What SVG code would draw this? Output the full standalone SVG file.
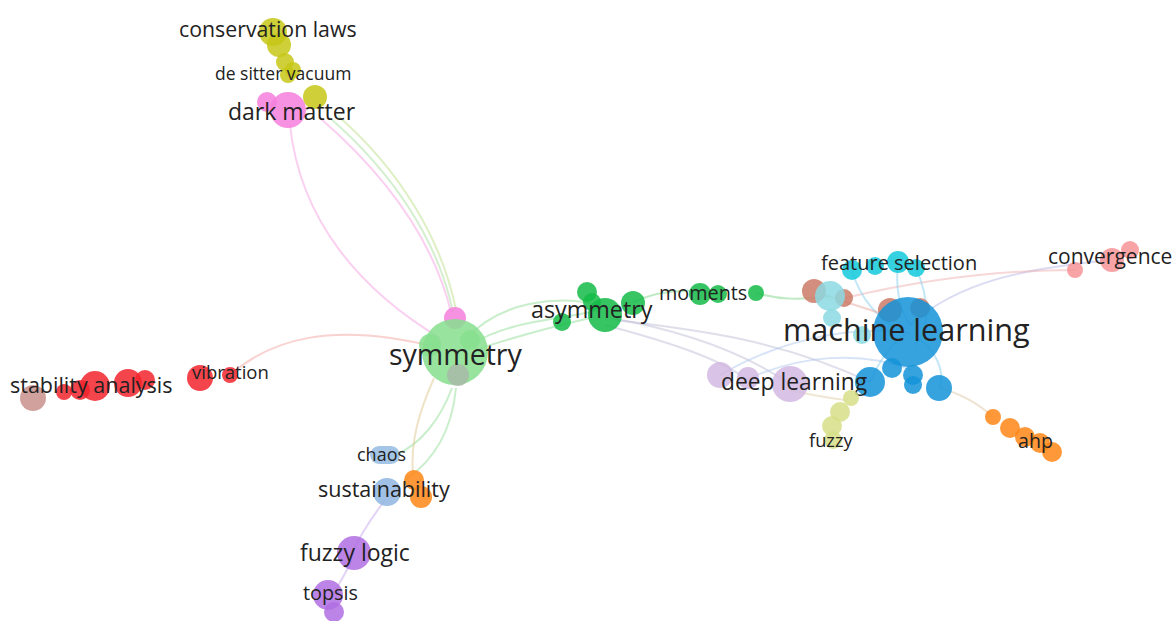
<svg xmlns="http://www.w3.org/2000/svg" width="1175" height="621" viewBox="0 0 1175 621">
<style>
text{font-family:"Open Sans","Liberation Sans",sans-serif;fill:#222;}
.e{fill:none;stroke-width:2;opacity:0.5;}
circle{opacity:0.85;}
.yel{fill:#c6c716;}
.pnk{fill:#f57fdc;}
.lgr{fill:#86df8e;}
.grn{fill:#14bb48;}
.red{fill:#f2242e;}
.brn{fill:#c8908c;}
.cyn{fill:#12c9dc;}
.lcy{fill:#8bd9e2;}
.blu{fill:#1493d8;}
.lpu{fill:#d2b8e2;}
.lye{fill:#d7df88;}
.org{fill:#ff8616;}
.cpk{fill:#f79396;}
.lbl{fill:#8fb6e0;}
.pur{fill:#b06ee2;}
.rbr{fill:#cc7a66;}
</style>
<rect width="1175" height="621" fill="#fff"/>
<g id="connectors">
<path class="e" stroke="#f5a0e2" d="M290,125 C300,220 360,290 440,338"/>
<path class="e" stroke="#f5a0e2" d="M320,118 C380,170 432,235 451,312"/>
<path class="e" stroke="#bfe08a" d="M338,116 C400,170 442,240 456,310"/>
<path class="e" stroke="#a8e0a0" d="M330,118 C392,172 438,240 453,312"/>
<path class="e" stroke="#f4a6a0" d="M230,375 C270,340 330,320 440,348"/>
<path class="e" stroke="#93dd98" d="M465,340 C500,300 560,295 600,305"/>
<path class="e" stroke="#93dd98" d="M470,345 C510,320 560,320 600,310"/>
<path class="e" stroke="#93dd98" d="M475,350 C520,335 560,325 590,318"/>
<path class="e" stroke="#93dd98" d="M452,388 C440,420 420,445 395,455"/>
<path class="e" stroke="#93dd98" d="M456,388 C452,430 435,460 405,480"/>
<path class="e" stroke="#e0c890" d="M434,378 C420,410 410,440 413,475"/>
<path class="e" stroke="#c6a8f0" d="M385,500 C370,520 360,535 352,553"/>
<path class="e" stroke="#c6a8f0" d="M352,560 C345,575 335,590 330,600"/>
<path class="e" stroke="#7fd68a" d="M633,302 C660,290 690,288 720,294"/>
<path class="e" stroke="#7fd68a" d="M756,293 C780,300 800,300 830,296"/>
<path class="e" stroke="#c0c0d8" d="M610,318 C680,330 740,350 790,384"/>
<path class="e" stroke="#c0c0d8" d="M615,320 C700,330 780,340 870,382"/>
<path class="e" stroke="#c0c0d8" d="M605,325 C680,345 720,360 745,378"/>
<path class="e" stroke="#b0c8f0" d="M720,375 C780,340 850,325 910,333"/>
<path class="e" stroke="#b0c8f0" d="M745,380 C800,355 860,350 912,370"/>
<path class="e" stroke="#b8b8e8" d="M910,325 C960,280 1030,268 1110,260"/>
<path class="e" stroke="#f0b0b0" d="M845,298 C920,280 1000,270 1075,270"/>
<path class="e" stroke="#e0c8a8" d="M940,388 C965,395 980,405 993,417"/>
<path class="e" stroke="#e0d0a8" d="M790,390 C810,395 830,398 845,400"/>
<path class="e" stroke="#8ad0f0" d="M852,270 C860,300 880,320 900,330"/>
<path class="e" stroke="#8ad0f0" d="M898,262 C895,290 900,310 910,325"/>
<path class="e" stroke="#8ad0f0" d="M916,268 C930,300 930,330 915,345"/>
<path class="e" stroke="#8ad0f0" d="M870,382 C880,360 890,345 905,335"/>
<path class="e" stroke="#8ad0f0" d="M940,388 C945,370 935,350 920,340"/>
<path class="e" stroke="#e8a8a0" d="M815,292 C840,300 870,310 895,318"/>
</g>
<g id="node-conservation-laws">
<circle class="yel" cx="273" cy="32" r="14"/>
<circle class="yel" cx="279" cy="45" r="12"/>
<text x="179" y="37" font-size="21.3">conservation laws</text>
</g>
<g id="node-de-sitter-vacuum">
<circle class="yel" cx="285" cy="62" r="9"/>
<circle class="yel" cx="293" cy="70" r="8"/>
<circle class="yel" cx="288" cy="75" r="8"/>
<circle class="yel" cx="315" cy="97" r="12"/>
<text x="215" y="80" font-size="17.5">de sitter vacuum</text>
</g>
<g id="node-dark-matter">
<circle class="pnk" cx="267" cy="102" r="10"/>
<circle class="pnk" cx="288" cy="110" r="18"/>
<text x="228" y="120" font-size="23">dark matter</text>
</g>
<g id="node-symmetry">
<circle class="pnk" cx="455" cy="318" r="11"/>
<circle class="lgr" cx="455" cy="352" r="33"/>
<circle class="lgr" cx="430" cy="345" r="11"/>
<circle class="lgr" cx="470" cy="340" r="10"/>
<circle fill="#a8b8a8" opacity="0.7" cx="458" cy="375" r="11"/>
<text x="389" y="365" font-size="28.5">symmetry</text>
</g>
<g id="node-asymmetry">
<circle class="grn" cx="587" cy="292" r="10"/>
<circle class="grn" cx="592" cy="302" r="9"/>
<circle class="grn" cx="605" cy="315" r="17"/>
<circle class="grn" cx="633" cy="303" r="12"/>
<circle class="grn" cx="562" cy="322" r="9"/>
<text x="531" y="318" font-size="23.3">asymmetry</text>
</g>
<g id="node-moments">
<circle class="grn" cx="700" cy="294" r="11"/>
<circle class="grn" cx="718" cy="294" r="9"/>
<circle class="grn" cx="756" cy="293" r="8"/>
<text x="659" y="300" font-size="19.8">moments</text>
</g>
<g id="node-feature-selection">
<circle class="rbr" cx="814" cy="291" r="12"/>
<circle class="rbr" cx="844" cy="298" r="9"/>
<circle class="lcy" cx="830" cy="296" r="15"/>
<circle class="lcy" cx="832" cy="318" r="9"/>
<circle class="lcy" cx="862" cy="335" r="9"/>
<circle class="cyn" cx="852" cy="270" r="10"/>
<circle class="cyn" cx="875" cy="266" r="9"/>
<circle class="cyn" cx="898" cy="262" r="11"/>
<circle class="cyn" cx="916" cy="268" r="9"/>
<text x="821" y="270" font-size="20">feature selection</text>
</g>
<g id="node-machine-learning">
<circle class="rbr" cx="890" cy="310" r="12"/>
<circle class="rbr" cx="920" cy="308" r="10"/>
<circle class="blu" cx="908" cy="332" r="35"/>
<circle class="blu" cx="870" cy="382" r="15"/>
<circle class="blu" cx="892" cy="368" r="10"/>
<circle class="blu" cx="913" cy="375" r="10"/>
<circle class="blu" cx="913" cy="385" r="9"/>
<circle class="blu" cx="939" cy="388" r="13"/>
<text x="783" y="341" font-size="30.6">machine learning</text>
</g>
<g id="node-deep-learning">
<circle class="lpu" cx="720" cy="375" r="13"/>
<circle class="lpu" cx="748" cy="378" r="11"/>
<circle class="lpu" cx="790" cy="384" r="18"/>
<text x="721" y="390" font-size="22.8">deep learning</text>
</g>
<g id="node-fuzzy">
<circle class="lye" cx="851" cy="398" r="8"/>
<circle class="lye" cx="840" cy="412" r="10"/>
<circle class="lye" cx="832" cy="426" r="10"/>
<circle class="lye" cx="833" cy="440" r="9"/>
<text x="809" y="447" font-size="18.3">fuzzy</text>
</g>
<g id="node-ahp">
<circle class="org" cx="993" cy="417" r="8"/>
<circle class="org" cx="1010" cy="428" r="10"/>
<circle class="org" cx="1025" cy="437" r="10"/>
<circle class="org" cx="1040" cy="443" r="10"/>
<circle class="org" cx="1052" cy="452" r="10"/>
<text x="1018" y="448" font-size="19.6">ahp</text>
</g>
<g id="node-convergence">
<circle class="cpk" cx="1075" cy="270" r="8"/>
<circle class="cpk" cx="1112" cy="260" r="12"/>
<circle class="cpk" cx="1130" cy="250" r="9"/>
<text x="1048" y="264" font-size="21">convergence</text>
</g>
<g id="node-stability-analysis">
<circle class="brn" cx="33" cy="398" r="13"/>
<circle class="red" cx="64" cy="392" r="8"/>
<circle class="red" cx="80" cy="390" r="10"/>
<circle class="red" cx="95" cy="386" r="15"/>
<circle class="red" cx="128" cy="383" r="14"/>
<circle class="red" cx="145" cy="380" r="10"/>
<text x="10" y="393" font-size="21.5">stability analysis</text>
</g>
<g id="node-vibration">
<circle class="red" cx="200" cy="378" r="13"/>
<circle class="red" cx="230" cy="375" r="8"/>
<text x="192" y="379" font-size="18.5">vibration</text>
</g>
<g id="node-chaos">
<rect class="lbl" opacity="0.8" x="370" y="446" width="30" height="18" rx="9"/>
<text x="357" y="461" font-size="18">chaos</text>
</g>
<g id="node-sustainability">
<circle class="lbl" cx="387" cy="492" r="14"/>
<circle class="org" opacity="0.6" cx="414" cy="480" r="10"/>
<circle class="org" opacity="0.6" cx="421" cy="497" r="11"/>
<text x="318" y="497" font-size="21.5">sustainability</text>
</g>
<g id="node-fuzzy-logic">
<circle class="pur" opacity="0.7" cx="354" cy="553" r="17"/>
<text x="300" y="561" font-size="23">fuzzy logic</text>
</g>
<g id="node-topsis">
<circle class="pur" opacity="0.7" cx="328" cy="595" r="15"/>
<circle class="pur" opacity="0.7" cx="334" cy="612" r="10"/>
<text x="303" y="600" font-size="19.8">topsis</text>
</g>
</svg>
